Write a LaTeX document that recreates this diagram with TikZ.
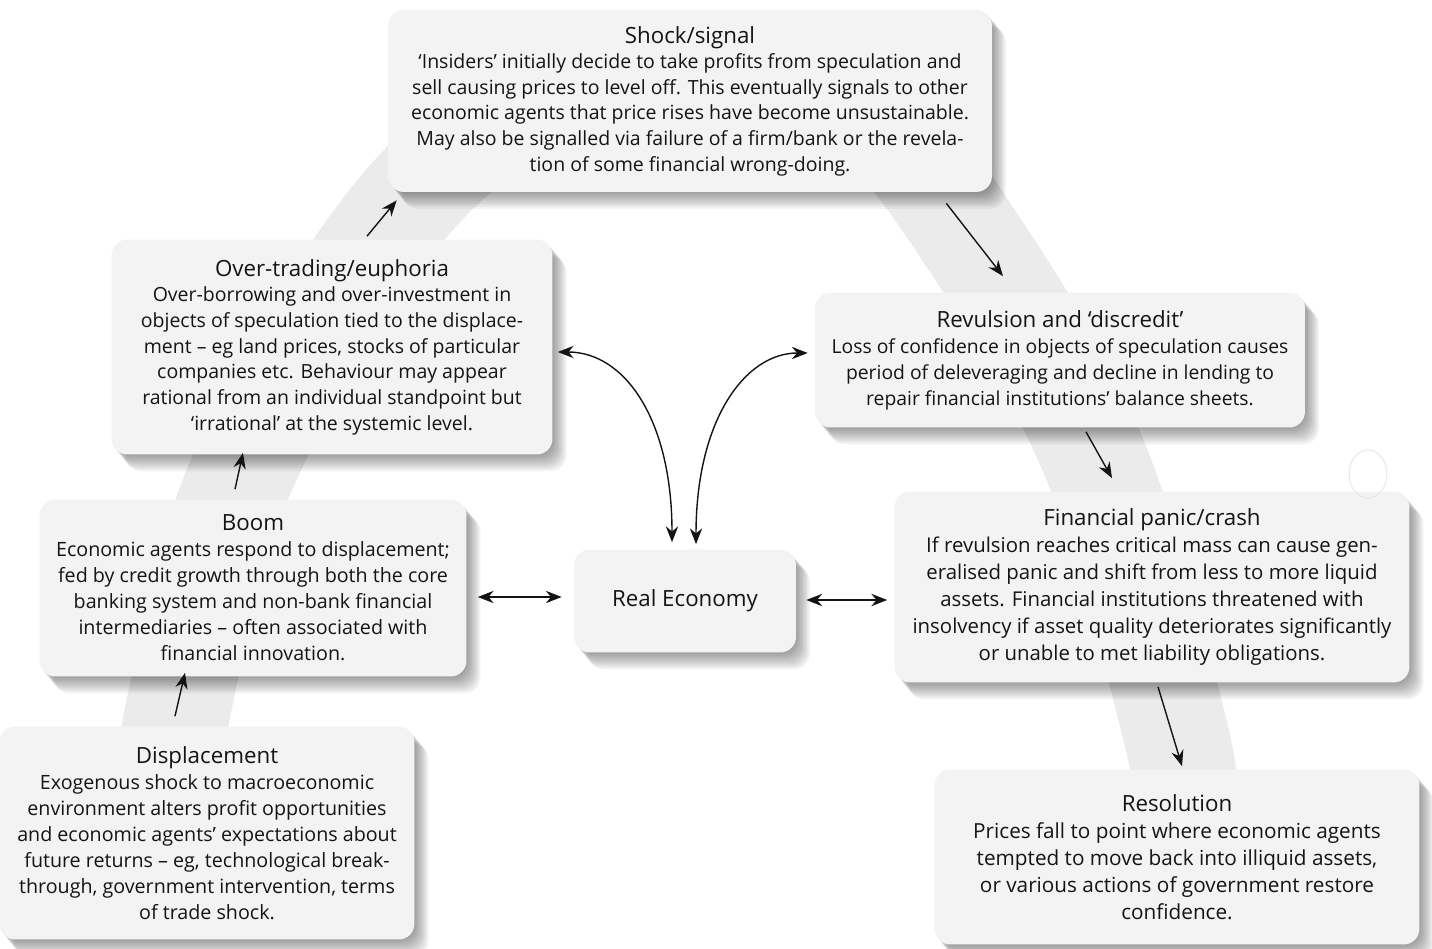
\documentclass[tikz,border=0pt]{standalone}
\usepackage{fontspec}
\setmainfont{Open Sans}
\usepackage{tikz}
\usetikzlibrary{arrows.meta,calc}
\definecolor{boxgray}{HTML}{F3F3F3}
\definecolor{bandgray}{HTML}{EBEBEB}
\definecolor{inkgray}{HTML}{141414}
\newcommand{\stagehead}[1]{{\fontsize{12.7}{15}\selectfont #1}}

\tikzset{
    softshadow/.style={preaction={fill=black, opacity=0.045, transform canvas={xshift=#1pt, yshift=-1.2*#1pt}}},
}

\begin{document}
\begin{tikzpicture}[x=0.02cm, y=-0.02cm,
    stage/.style={rectangle, fill=boxgray, rounded corners=9pt, align=center, text=inkgray,
        font=\fontsize{11.1}{14.6}\selectfont,
        softshadow=0.8, softshadow=1.6, softshadow=2.4, softshadow=3.2, softshadow=4,
        softshadow=4.8, softshadow=5.6, softshadow=6.4, softshadow=7.2, softshadow=8},
    flow/.style={-{Stealth[length=9pt,width=7pt]}, draw=inkgray, line width=0.8pt},
    link/.style={{Stealth[length=9pt,width=7pt]}-{Stealth[length=9pt,width=7pt]}, draw=inkgray, line width=0.8pt}]

    \useasboundingbox (0,0) rectangle (1432,949);

    % Band behind the cycle
    \draw[bandgray, line width=2.1cm, line cap=butt]
        plot[smooth, tension=0.6] coordinates {(165,830) (178,710) (240,478) (381,235) (520,110) (690,70) (860,110) (975,245) (1095,460) (1175,730) (1188,830)};

    % Upswing
    \node[stage, font=\fontsize{11.2}{14.8}\selectfont, minimum width=8.3cm, minimum height=4.26cm] (disp) at (207,833)
        {\stagehead{Displacement}\\Exogenous shock to macroeconomic\\environment alters profit opportunities\\and economic agents’ expectations about\\future returns – eg, technological break-\\through, government intervention, terms\\of trade shock.};
    \node[stage, font=\fontsize{11.2}{14.8}\selectfont, minimum width=8.54cm, minimum height=3.54cm] (boom) at (253,588)
        {\stagehead{Boom}\\Economic agents respond to displacement;\\fed by credit growth through both the core\\banking system and non-bank financial\\intermediaries – often associated with\\financial innovation.};
    \node[stage, minimum width=8.82cm, minimum height=4.3cm] (over) at (332,347)
        {\stagehead{Over-trading/euphoria}\\Over-borrowing and over-investment in\\objects of speculation tied to the displace-\\ment – eg land prices, stocks of particular\\companies etc. Behaviour may appear\\rational from an individual standpoint but\\‘irrational’ at the systemic level.};

    % Turning point
    \node[stage, minimum width=12.08cm, minimum height=3.64cm] (shock) at (690,101)
        {\stagehead{Shock/signal}\\‘Insiders’ initially decide to take profits from speculation and\\sell causing prices to level off. This eventually signals to other\\economic agents that price rises have become unsustainable.\\May also be signalled via failure of a firm/bank or the revela-\\tion of some financial wrong-doing.};

    % Downswing
    \node[stage, font=\fontsize{11}{14.8}\selectfont, minimum width=9.8cm, minimum height=2.7cm] (revul) at (1060,360)
        {\stagehead{Revulsion and ‘discredit’}\\Loss of confidence in objects of speculation causes\\period of deleveraging and decline in lending to\\repair financial institutions’ balance sheets.};
    \node[stage, font=\fontsize{11.6}{15.4}\selectfont, minimum width=10.3cm, minimum height=3.82cm] (panic) at (1152,587)
        {\stagehead{Financial panic/crash}\\If revulsion reaches critical mass can cause gen-\\eralised panic and shift from less to more liquid\\assets. Financial institutions threatened with\\insolvency if asset quality deteriorates significantly\\or unable to met liability obligations.};
    \node[stage, font=\fontsize{11.8}{15.4}\selectfont, minimum width=9.7cm, minimum height=3.5cm] (resol) at (1177,857)
        {\stagehead{Resolution}\\Prices fall to point where economic agents\\tempted to move back into illiquid assets,\\or various actions of government restore\\confidence.};

    % Centre
    \node[stage, font=\fontsize{12.7}{15}\selectfont, minimum width=4.44cm, minimum height=2.06cm] (real) at (685,601) {Real Economy};

    % scan mark
    \draw[gray!20, line width=0.5pt] (1368,474) ellipse (19 and 24);

    % Cycle arrows
    \draw[flow] ($(disp.north)+(-32,-10)$) -- ($(boom.south)+(-68,-4)$);
    \draw[flow] ($(boom.north)+(-18,-10)$) -- ($(over.south)+(-89,-2)$);
    \draw[flow] ($(over.north)+(35,-3)$) -- ($(shock.south west)+(9,8)$);
    \draw[flow] ($(shock.south east)+(-46,11)$) -- ($(revul.north)+(-57,-16)$);
    \draw[flow] ($(revul.south)+(26,4)$) -- ($(panic.north)+(-40,-13)$);
    \draw[flow] ($(panic.south)+(6,4)$) -- ($(resol.north)+(5,-3)$);

    % Links with the real economy
    \draw[link] ($(boom.east)+(11,9)$) -- ($(real.west)+(-12,-4)$);
    \draw[link] ($(real.east)+(10,-1)$) -- ($(panic.west)+(-7,13)$);
    \draw[link] ($(over.east)+(5,5)$) .. controls (625,352) and (672,420) .. ($(real.north)+(-13,-7)$);
    \draw[link] ($(revul.west)+(-7,-7)$) .. controls (745,353) and (696,420) .. ($(real.north)+(11,-5)$);
\end{tikzpicture}
\end{document}
